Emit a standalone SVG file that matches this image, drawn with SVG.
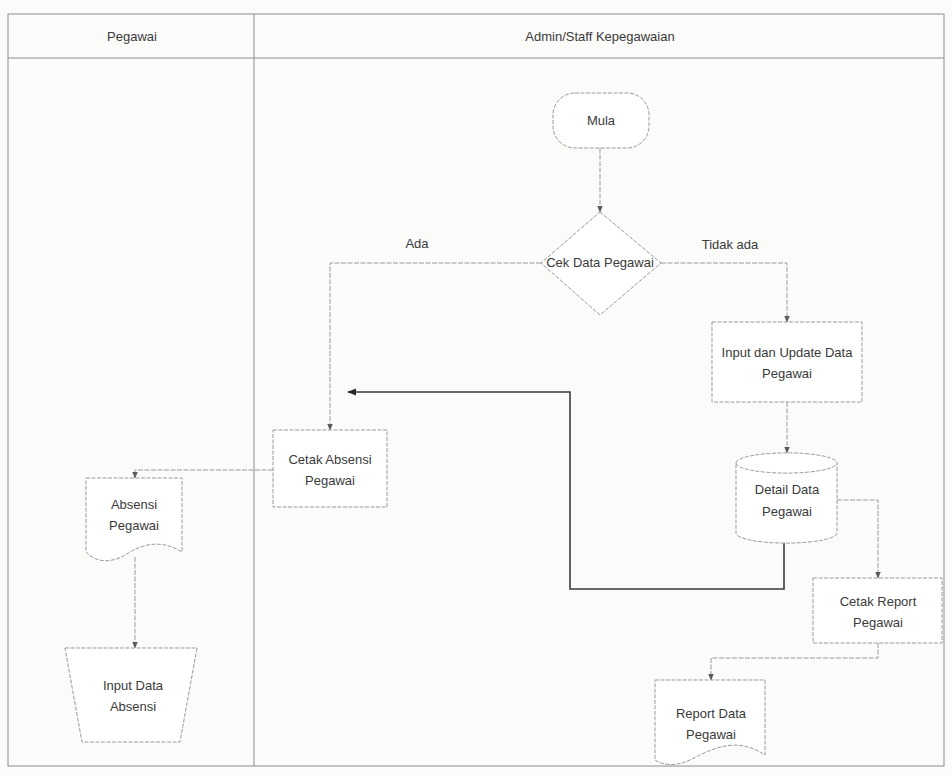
<svg xmlns="http://www.w3.org/2000/svg" width="952" height="776" viewBox="0 0 952 776">
  <style>
    .bg { fill: #fbfbfa; }
    .lane { fill: none; stroke: #8c8c8c; stroke-width: 1; }
    .shape { fill: #ffffff; stroke: #9a9a9a; stroke-width: 1; stroke-dasharray: 4 1.5; }
    .flow { fill: none; stroke: #9a9a9a; stroke-width: 1; stroke-dasharray: 5 1.5; }
    .bold { fill: none; stroke: #3a3a3a; stroke-width: 1.6; }
    text { font-family: "Liberation Sans", Arial, sans-serif; font-size: 13px; fill: #3a3a3a; text-anchor: middle; }
  </style>
  <defs>
    <marker id="arr" viewBox="0 0 10 10" refX="9" refY="5" markerWidth="7" markerHeight="7" orient="auto" markerUnits="userSpaceOnUse">
      <path d="M0,1 L10,5 L0,9 z" fill="#5a5a5a"/>
    </marker>
    <marker id="arrBold" viewBox="0 0 10 10" refX="9" refY="5" markerWidth="9" markerHeight="9" orient="auto" markerUnits="userSpaceOnUse">
      <path d="M0,1 L10,5 L0,9 z" fill="#2a2a2a"/>
    </marker>
  </defs>

  <rect class="bg" x="0" y="0" width="952" height="776"/>

  <!-- swimlanes -->
  <g id="lanes">
    <rect class="lane" x="8" y="14" width="936" height="752"/>
    <line class="lane" x1="8" y1="58" x2="944" y2="58"/>
    <line class="lane" x1="254" y1="14" x2="254" y2="766"/>
    <text x="132" y="41">Pegawai</text>
    <text x="600" y="41">Admin/Staff Kepegawaian</text>
  </g>

  <!-- connectors -->
  <g id="connectors">
    <line class="flow" x1="600" y1="148" x2="600" y2="212" marker-end="url(#arr)"/>
    <polyline class="flow" points="541,263 330,263 330,430" marker-end="url(#arr)"/>
    <polyline class="flow" points="661,263 787,263 787,322" marker-end="url(#arr)"/>
    <line class="flow" x1="787" y1="402" x2="787" y2="453" marker-end="url(#arr)"/>
    <polyline class="flow" points="837,500 878,500 878,578" marker-end="url(#arr)"/>
    <polyline class="flow" points="878,643 878,658 711,658 711,680" marker-end="url(#arr)"/>
    <polyline class="bold" points="784,543 784,589 570,589 570,392 348,392" marker-end="url(#arrBold)"/>
    <polyline class="flow" points="273,470 135,470 135,478" marker-end="url(#arr)"/>
    <line class="flow" x1="135" y1="557" x2="135" y2="648" marker-end="url(#arr)"/>
    <text x="417" y="248">Ada</text>
    <text x="730" y="249">Tidak ada</text>
  </g>

  <g id="mula">
    <rect class="shape" x="553" y="93" width="96" height="55" rx="22" ry="22"/>
    <text x="601" y="125">Mula</text>
  </g>

  <g id="cek-data-pegawai">
    <polygon class="shape" points="600,212 661,263 600,315 541,263"/>
    <text x="600" y="267">Cek Data Pegawai</text>
  </g>

  <g id="input-update-data">
    <rect class="shape" x="712" y="322" width="150" height="80"/>
    <text x="787" y="357">Input dan Update Data</text>
    <text x="787" y="378">Pegawai</text>
  </g>

  <g id="detail-data-pegawai">
    <path class="shape" d="M736,463 A50,10 0 0 1 837,463 L837,533 A50,10 0 0 1 736,533 Z"/>
    <path class="shape" d="M736,463 A50,10 0 0 0 837,463" fill="none"/>
    <text x="787" y="494">Detail Data</text>
    <text x="787" y="516">Pegawai</text>
  </g>

  <g id="cetak-report">
    <rect class="shape" x="813" y="578" width="129" height="65"/>
    <text x="878" y="606">Cetak Report</text>
    <text x="878" y="627">Pegawai</text>
  </g>

  <g id="report-data-pegawai">
    <path class="shape" d="M655,680 L765,680 L765,755 C735,735 710,750 690,760 C675,767 662,765 655,760 Z"/>
    <text x="711" y="718">Report Data</text>
    <text x="711" y="739">Pegawai</text>
  </g>

  <g id="cetak-absensi">
    <rect class="shape" x="273" y="430" width="114" height="77"/>
    <text x="330" y="464">Cetak Absensi</text>
    <text x="330" y="485">Pegawai</text>
  </g>

  <g id="absensi-pegawai">
    <path class="shape" d="M86,478 L182,478 L182,552 C160,538 140,545 125,555 C110,564 95,562 86,552 Z"/>
    <text x="134" y="509">Absensi</text>
    <text x="134" y="530">Pegawai</text>
  </g>

  <g id="input-data-absensi">
    <polygon class="shape" points="65,648 197,648 180,742 82,742"/>
    <text x="133" y="690">Input Data</text>
    <text x="133" y="711">Absensi</text>
  </g>
</svg>
